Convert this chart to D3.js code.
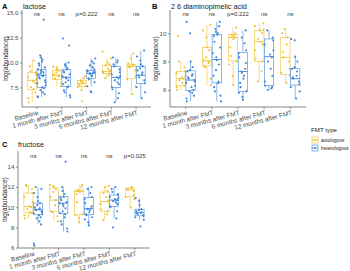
<!DOCTYPE html>
<html>
<head>
<meta charset="utf-8">
<script src="https://cdn.jsdelivr.net/npm/d3@7"></script>
<style>
  body { margin: 0; background: #fff; }
  text { font-family: "Liberation Sans", Arial, sans-serif; }
</style>
</head>
<body>
<div id="chart"></div>
<script>
var categories = ["Baseline", "1 month after FMT", "3 months after FMT", "6 months after FMT", "12 months after FMT"]
var groups = ["autologous", "heterologous"]
var colors = { autologous: "#EFC12F", heterologous: "#3D86D8" }

// box stats per category: [lower whisker, q1, median, q3, upper whisker]
var lactoseAutoBox = [[6.0, 7.3, 8.2, 9.0, 10.2], [7.6, 8.3, 8.7, 9.2, 9.6], [7.2, 7.6, 7.9, 8.2, 8.6], [8.4, 8.9, 9.1, 9.7, 10.4], [6.8, 8.4, 9.6, 9.8, 10.9]]
var lactoseHeteroBox = [[6.5, 7.5, 8.7, 9.3, 10.7], [6.5, 7.6, 8.5, 9.3, 10.0], [7.6, 8.4, 8.9, 9.2, 10.4], [6.0, 7.5, 8.5, 9.6, 10.5], [6.4, 7.9, 8.7, 9.6, 11.2]]
var lactoseAutoPts = [
  [6.0, 6.4, 7.0, 7.3, 7.5, 7.9, 8.1, 8.3, 8.5, 8.8, 9.0, 9.1, 9.6, 10.2],
  [7.6, 7.9, 8.3, 8.4, 8.6, 8.7, 8.8, 9.0, 9.2, 9.3, 9.5, 9.6],
  [6.1, 7.2, 7.5, 7.6, 7.7, 7.8, 7.9, 8.0, 8.1, 8.2, 8.4, 8.6],
  [8.4, 8.7, 8.9, 9.0, 9.1, 9.2, 9.4, 9.7, 9.8, 10.0, 10.4, 11.1],
  [6.8, 7.6, 8.3, 8.6, 9.2, 9.5, 9.6, 9.7, 9.8, 9.9, 10.4, 10.9]]
var lactoseHeteroPts = [
  [6.5, 6.6, 6.8, 7.0, 7.2, 7.4, 7.5, 7.7, 7.9, 8.0, 8.2, 8.4, 8.5, 8.6, 8.7, 8.8, 8.9, 9.0, 9.1, 9.2, 9.3, 9.5, 9.7, 9.9, 10.1, 10.3, 10.5, 10.7, 14.3],
  [6.5, 6.7, 7.0, 7.2, 7.5, 7.6, 7.8, 8.0, 8.2, 8.4, 8.5, 8.6, 8.8, 9.0, 9.1, 9.3, 9.4, 9.6, 9.8, 10.0, 11.7, 12.4],
  [7.0, 7.1, 7.6, 8.0, 8.3, 8.4, 8.6, 8.7, 8.8, 8.9, 9.0, 9.0, 9.1, 9.2, 9.3, 9.5, 9.7, 9.9, 10.1, 10.4],
  [6.0, 6.4, 6.9, 7.3, 7.5, 7.8, 8.0, 8.2, 8.4, 8.5, 8.6, 8.8, 9.0, 9.3, 9.6, 9.8, 10.0, 10.2, 10.5],
  [6.4, 7.0, 7.5, 7.9, 8.2, 8.5, 8.7, 8.8, 9.0, 9.2, 9.4, 9.6, 9.8, 10.2, 10.6, 11.2]]

var dapAutoBox = [[6.0, 6.3, 6.8, 7.3, 8.0], [6.35, 7.7, 8.05, 9.0, 10.6], [6.35, 8.05, 9.7, 9.9, 10.4], [6.6, 8.0, 9.4, 10.2, 10.7], [6.5, 7.1, 8.3, 9.7, 10.3]]
var dapHeteroBox = [[5.2, 5.95, 6.7, 7.35, 8.0], [5.2, 6.5, 8.15, 9.9, 10.8], [5.3, 5.9, 7.3, 8.65, 10.2], [6.0, 6.3, 8.35, 9.6, 10.2], [5.4, 6.35, 6.8, 7.5, 8.35]]
var dapAutoPts = [
  [6.0, 6.2, 6.3, 6.5, 6.7, 6.8, 6.9, 7.0, 7.2, 7.3, 7.6, 8.0, 9.8],
  [6.35, 6.8, 7.6, 7.7, 7.9, 8.0, 8.1, 8.3, 8.8, 9.0, 9.7, 10.2, 10.6],
  [6.35, 7.0, 7.8, 8.0, 8.4, 9.0, 9.6, 9.8, 9.85, 9.9, 10.0, 10.4],
  [6.6, 7.3, 8.0, 8.2, 8.8, 9.2, 9.4, 9.6, 10.0, 10.2, 10.3, 10.5, 10.7],
  [6.5, 7.0, 7.2, 7.5, 8.0, 8.3, 8.7, 9.2, 9.7, 10.0, 10.3]]
var dapHeteroPts = [
  [5.2, 5.4, 5.6, 5.8, 5.9, 6.0, 6.2, 6.3, 6.5, 6.6, 6.7, 6.8, 6.9, 7.0, 7.1, 7.3, 7.4, 7.6, 8.0, 10.0, 10.8],
  [5.2, 5.6, 5.9, 6.2, 6.5, 6.6, 7.0, 7.4, 7.8, 8.1, 8.3, 8.6, 9.0, 9.4, 9.8, 9.9, 10.0, 10.1, 10.3, 10.5, 10.8],
  [5.3, 5.5, 5.8, 5.9, 6.2, 6.5, 6.8, 7.0, 7.2, 7.3, 7.5, 7.9, 8.3, 8.6, 8.8, 9.3, 9.7, 10.2],
  [6.0, 6.1, 6.2, 6.3, 6.6, 7.0, 7.5, 8.0, 8.3, 8.5, 8.8, 9.2, 9.5, 9.7, 10.2],
  [5.4, 5.9, 6.2, 6.4, 6.6, 6.8, 6.9, 7.0, 7.3, 7.5, 7.6, 8.0, 8.35, 9.5, 9.6]]

var fructoseAutoBox = [[8.9, 9.5, 10.05, 11.4, 12.2], [8.6, 9.6, 10.7, 11.9, 12.2], [8.5, 9.25, 11.55, 11.7, 12.2], [8.75, 9.6, 10.55, 11.5, 12.1], [9.96, 11.05, 11.7, 11.9, 12.0]]
var fructoseHeteroBox = [[8.3, 9.25, 9.75, 10.4, 12.0], [7.6, 9.4, 10.4, 11.05, 12.0], [8.2, 9.25, 9.85, 10.95, 12.0], [8.9, 10.05, 10.7, 11.2, 12.0], [8.75, 9.15, 9.45, 9.8, 10.9]]
var fructoseAutoPts = [
  [8.9, 9.2, 9.4, 9.5, 9.8, 10.0, 10.1, 10.5, 11.0, 11.4, 11.8, 12.1, 12.2],
  [8.6, 9.1, 9.5, 9.6, 10.2, 10.7, 11.0, 11.5, 11.8, 12.0, 12.1, 12.2],
  [8.5, 8.9, 9.2, 9.3, 10.5, 11.3, 11.5, 11.55, 11.6, 11.7, 12.0, 12.2],
  [8.75, 9.3, 9.6, 9.8, 10.3, 10.6, 11.0, 11.4, 11.6, 12.0, 12.1],
  [9.96, 10.8, 11.0, 11.2, 11.6, 11.7, 11.8, 11.9, 12.0]]
var fructoseHeteroPts = [
  [6.2, 6.4, 8.3, 8.6, 8.9, 9.0, 9.2, 9.3, 9.4, 9.5, 9.6, 9.7, 9.8, 9.8, 9.9, 10.0, 10.2, 10.4, 10.6, 11.0, 11.4, 11.8, 12.0],
  [7.6, 7.9, 8.3, 8.6, 9.0, 9.3, 9.4, 9.6, 9.9, 10.1, 10.3, 10.4, 10.5, 10.7, 10.9, 11.0, 11.3, 11.6, 12.0, 14.5],
  [8.2, 8.5, 8.8, 9.0, 9.2, 9.3, 9.5, 9.7, 9.8, 9.85, 9.9, 10.1, 10.4, 10.8, 11.0, 11.4, 11.8, 12.0],
  [8.0, 8.9, 9.6, 10.0, 10.1, 10.3, 10.5, 10.6, 10.7, 10.8, 10.9, 11.0, 11.2, 11.3, 11.5, 11.8, 12.0],
  [8.1, 8.75, 9.0, 9.1, 9.2, 9.3, 9.4, 9.45, 9.5, 9.6, 9.7, 9.8, 10.2, 10.6, 10.9]]

var lactoseLabels = ["ns", "ns", "p=0.222", "ns", "ns"]
var dapLabels = ["ns", "ns", "p=0.222", "ns", "ns"]
var fructoseLabels = ["ns", "ns", "ns", "ns", "p=0.025"]

var lactoseTicks = [7.5, 10.0, 12.5, 15.0]
var dapTicks = [6, 8, 10]
var fructoseTicks = [6, 8, 10, 12, 14]

// fixed jitter offsets (fraction of half jitter width)
var jit = [-0.8, 0.3, -0.2, 0.9, -0.5, 0.6, 0.0, -0.9, 0.4, -0.3, 0.8, -0.6, 0.2, -0.1, 0.7, -0.7, 0.5, -0.4, 0.1, 0.95, -0.85, 0.35, -0.15, 0.65, -0.55, 0.25, -0.95, 0.75, -0.25, 0.45]

var svg = d3.select("#chart").append("svg")
  .attr("width", 350).attr("height", 271)

function panel(opt) {
  var x = d3.scaleBand().domain(categories).range([opt.x0, opt.x1]).paddingOuter(0.1).paddingInner(0)
  var y = d3.scaleLinear().domain(opt.ydom).range([opt.y1, opt.y0])
  var g = svg.append("g")
  var bw = x.bandwidth()
  var dodge = bw * 0.75 / 2
  var boxW = dodge * 0.95

  // axes
  g.append("g").attr("transform", "translate(0," + opt.y1 + ")")
    .call(d3.axisBottom(x).tickSize(2).tickFormat(""))
    .call(function(a) { a.select(".domain").attr("stroke", "#333").attr("stroke-width", 0.6).attr("d", "M" + opt.x0 + ",0H" + opt.x1) })
    .call(function(a) { a.selectAll(".tick line").attr("stroke", "#333").attr("stroke-width", 0.5) })
  g.append("g").attr("transform", "translate(" + opt.x0 + ",0)")
    .call(d3.axisLeft(y).tickValues(opt.ticks).tickSize(2).tickFormat(opt.fmt))
    .call(function(a) { a.select(".domain").attr("stroke", "#333").attr("stroke-width", 0.6).attr("d", "M0," + opt.y0 + "V" + opt.y1) })
    .call(function(a) { a.selectAll(".tick line").attr("stroke", "#333").attr("stroke-width", 0.5) })
    .call(function(a) { a.selectAll(".tick text").attr("font-size", 6.2).attr("fill", "#4d4d4d").attr("x", -3.5) })

  // x labels rotated
  g.selectAll(".xl").data(categories).enter().append("text")
    .attr("transform", function(d) { return "translate(" + (x(d) + bw / 2 + 2) + "," + (opt.y1 + 7.5) + ") rotate(-15)" })
    .attr("text-anchor", "end").attr("font-size", 6.4).attr("fill", "#4d4d4d")
    .text(function(d) { return d })

  // y title
  g.append("text")
    .attr("transform", "translate(" + opt.ytx + "," + ((opt.y0 + opt.y1) / 2) + ") rotate(-90)")
    .attr("text-anchor", "middle").attr("dy", "0.35em").attr("font-size", 6.4).attr("fill", "#222")
    .text("log(abundance)")

  // panel tag and title
  g.append("text").attr("x", opt.tagx).attr("y", opt.titley).attr("font-size", 7.5).attr("font-weight", "bold").text(opt.tag)
  g.append("text").attr("x", opt.titlex).attr("y", opt.titley).attr("font-size", 7.3).attr("fill", "#222").text(opt.title)

  // boxes and points
  var sets = [[groups[0], opt.autoBox, opt.autoPts, -1], [groups[1], opt.heteroBox, opt.heteroPts, 1]]
  sets.forEach(function(s) {
    var col = colors[s[0]]
    categories.forEach(function(c, i) {
      var cx = x(c) + bw / 2 + s[3] * dodge / 2
      var b = s[1][i]
      var bg = g.append("g")
      bg.append("line").attr("x1", cx).attr("x2", cx).attr("y1", y(b[0])).attr("y2", y(b[1]))
        .attr("stroke", col).attr("stroke-width", 0.6)
      bg.append("line").attr("x1", cx).attr("x2", cx).attr("y1", y(b[3])).attr("y2", y(b[4]))
        .attr("stroke", col).attr("stroke-width", 0.6)
      bg.append("rect").attr("x", cx - boxW / 2).attr("width", boxW)
        .attr("y", y(b[3])).attr("height", y(b[1]) - y(b[3]))
        .attr("fill", "#fff").attr("fill-opacity", 0.6).attr("stroke", col).attr("stroke-width", 0.6)
      bg.append("line").attr("x1", cx - boxW / 2).attr("x2", cx + boxW / 2).attr("y1", y(b[2])).attr("y2", y(b[2]))
        .attr("stroke", col).attr("stroke-width", 0.9)
      bg.selectAll("circle").data(s[2][i]).enter().append("circle")
        .attr("cx", function(d, k) { return cx + jit[(k * 7 + i * 3) % jit.length] * boxW * 0.5 })
        .attr("cy", function(d) { return y(d) })
        .attr("r", 1.05).attr("fill", col)
    })
  })

  // significance labels
  g.selectAll(".sig").data(opt.labels).enter().append("text")
    .attr("x", function(d, i) { return x(categories[i]) + bw / 2 })
    .attr("y", opt.sigy).attr("text-anchor", "middle").attr("font-size", 6).attr("fill", "#333")
    .text(function(d) { return d })
}

panel({ x0: 22, x1: 151, y0: 10, y1: 107, ydom: [5.52, 15.27], ticks: lactoseTicks, fmt: d3.format(".1f"),
  ytx: 6, tag: "A", tagx: 2, title: "lactose", titlex: 23, titley: 9, sigy: 16,
  autoBox: lactoseAutoBox, heteroBox: lactoseHeteroBox, autoPts: lactoseAutoPts, heteroPts: lactoseHeteroPts, labels: lactoseLabels })

panel({ x0: 170, x1: 306, y0: 10, y1: 107, ydom: [4.8, 11.64], ticks: dapTicks, fmt: d3.format("d"),
  ytx: 156, tag: "B", tagx: 152, title: "2 6 diaminopimelic acid", titlex: 171, titley: 9, sigy: 16,
  autoBox: dapAutoBox, heteroBox: dapHeteroBox, autoPts: dapAutoPts, heteroPts: dapHeteroPts, labels: dapLabels })

panel({ x0: 18, x1: 150, y0: 151, y1: 248, ydom: [5.97, 15.55], ticks: fructoseTicks, fmt: d3.format("d"),
  ytx: 5, tag: "C", tagx: 2, title: "fructose", titlex: 18, titley: 147, sigy: 158,
  autoBox: fructoseAutoBox, heteroBox: fructoseHeteroBox, autoPts: fructoseAutoPts, heteroPts: fructoseHeteroPts, labels: fructoseLabels })

// legend
var leg = svg.append("g")
leg.append("text").attr("x", 311).attr("y", 132).attr("font-size", 6.2).attr("fill", "#222").text("FMT type")
groups.forEach(function(gname, i) {
  var yy = 137 + i * 8
  leg.append("rect").attr("x", 312).attr("y", yy).attr("width", 6).attr("height", 6)
    .attr("fill", "#fff").attr("stroke", colors[gname]).attr("stroke-width", 0.6)
  leg.append("line").attr("x1", 312).attr("x2", 318).attr("y1", yy + 3).attr("y2", yy + 3)
    .attr("stroke", colors[gname]).attr("stroke-width", 0.8)
  leg.append("circle").attr("cx", 315).attr("cy", yy + 3).attr("r", 0.9).attr("fill", colors[gname])
  leg.append("text").attr("x", 321).attr("y", yy + 5).attr("font-size", 4.8).attr("fill", "#222").text(gname)
})
</script>
</body>
</html>
